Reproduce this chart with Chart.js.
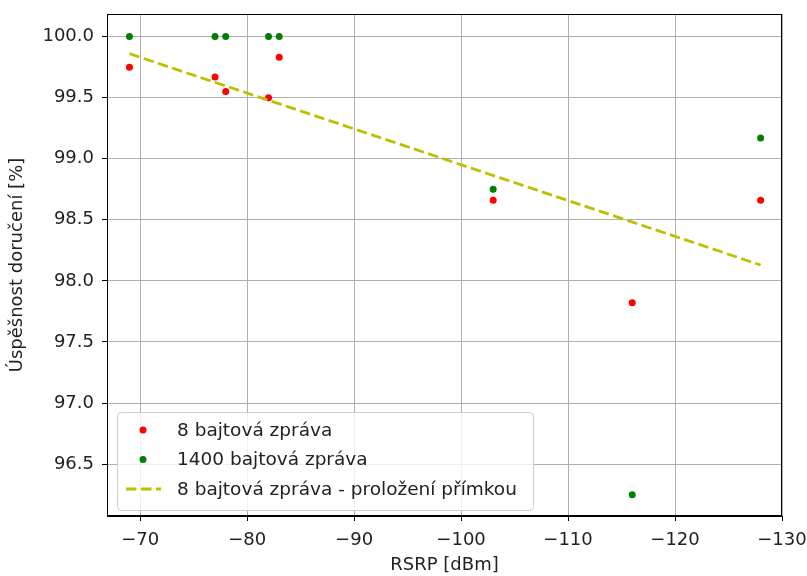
<!DOCTYPE html>
<html>
<head>
<meta charset="utf-8">
<script src="https://cdn.jsdelivr.net/npm/chart.js@4/dist/chart.umd.min.js"></script>
<style>
  html, body { margin: 0; padding: 0; background: #fff; }
  #wrap { width: 807px; height: 576px; }
</style>
</head>
<body>
<div id="wrap"><canvas id="chart" width="807" height="576"></canvas></div>
<script>
// RSRP values [dBm]
const rsrp = [-69, -77, -78, -82, -83, -103, -116, -128];
// delivery success [%]
const small = [99.75, 99.67, 99.55, 99.5, 99.83, 98.66, 97.82, 98.66];
const large = [100.0, 100.0, 100.0, 100.0, 100.0, 98.75, 96.25, 99.17];
// fitted line endpoints
const fitX = [-69, -128];
const fitY = [99.86, 98.13];

const xTicks = [-70, -80, -90, -100, -110, -120, -130];
const yTicks = [96.5, 97.0, 97.5, 98.0, 98.5, 99.0, 99.5, 100.0];

const labels = ["8 bajtová zpráva", "1400 bajtová zpráva", "8 bajtová zpráva - proložení přímkou"];

const FONT = "'DejaVu Sans', sans-serif";
const FS = 18;

const toPts = (xs, ys) => xs.map((x, i) => ({ x: x, y: ys[i] }));

// frame + legend inside the plot, lower left
const framePlugin = {
  id: "frame",
  afterDraw(chart) {
    const { ctx, chartArea: a } = chart;
    ctx.save();
    ctx.strokeStyle = "#000";
    ctx.lineWidth = 1;
    ctx.strokeRect(a.left + 0.5, a.top + 0.5, a.right - a.left - 1, a.bottom - a.top - 1);

    // legend
    const bx = a.left + 10, by = a.bottom - 104, bw = 416, bh = 98;
    ctx.fillStyle = "rgba(255,255,255,0.8)";
    ctx.strokeStyle = "#d0d0d0";
    ctx.beginPath();
    ctx.roundRect(bx + 0.5, by + 0.5, bw, bh, 4);
    ctx.fill();
    ctx.stroke();

    const ds = chart.data.datasets;
    ctx.font = "18.5px " + FONT;
    ctx.textBaseline = "middle";
    for (let i = 0; i < ds.length; i++) {
      const cy = by + 18 + i * 29.5;
      if (ds[i].showLine) {
        ctx.strokeStyle = ds[i].borderColor;
        ctx.lineWidth = ds[i].borderWidth;
        ctx.setLineDash(ds[i].borderDash);
        ctx.beginPath();
        ctx.moveTo(bx + 9, cy);
        ctx.lineTo(bx + 44, cy);
        ctx.stroke();
        ctx.setLineDash([]);
      } else {
        ctx.fillStyle = ds[i].backgroundColor;
        ctx.beginPath();
        ctx.arc(bx + 26, cy, 3.5, 0, Math.PI * 2);
        ctx.fill();
      }
      ctx.fillStyle = "#222";
      ctx.fillText(ds[i].label, bx + 60, cy + 1);
    }
    ctx.restore();
  }
};

new Chart(document.getElementById("chart"), {
  type: "scatter",
  data: {
    datasets: [
      {
        label: labels[0],
        data: toPts(rsrp, small),
        backgroundColor: "#ff0000",
        borderColor: "#ff0000",
        pointRadius: 3.5,
        pointBorderWidth: 0,
        showLine: false,
        order: 2
      },
      {
        label: labels[1],
        data: toPts(rsrp, large),
        backgroundColor: "#008000",
        borderColor: "#008000",
        pointRadius: 3.5,
        pointBorderWidth: 0,
        showLine: false,
        order: 1
      },
      {
        label: labels[2],
        data: toPts(fitX, fitY),
        borderColor: "#bfbf00",
        backgroundColor: "#bfbf00",
        borderWidth: 2.8,
        borderDash: [10.5, 4.5],
        pointRadius: 0,
        showLine: true,
        order: 0
      }
    ]
  },
  options: {
    responsive: false,
    animation: false,
    layout: { padding: { top: 14, right: 25, left: 0, bottom: 0 } },
    plugins: {
      legend: { display: false },
      tooltip: { enabled: false }
    },
    scales: {
      x: {
        type: "linear",
        reverse: true,
        min: -130,
        max: -66.9,
        afterBuildTicks: (s) => { s.ticks = xTicks.map(v => ({ value: v })); },
        afterFit: (s) => { s.height = 60; s.paddingLeft = 0; s.paddingRight = 0; },
        ticks: {
          font: { family: FONT, size: FS },
          color: "#222",
          padding: 9,
          maxRotation: 0,
          callback: (v) => String(v).replace("-", "\u2212")
        },
        grid: { color: "#b0b0b0", lineWidth: 1, tickColor: "#000", tickLength: 5 },
        border: { display: true, color: "#000" },
        title: {
          display: true,
          text: "RSRP [dBm]",
          font: { family: FONT, size: FS },
          color: "#222",
          padding: { top: 0, bottom: 0 }
        }
      },
      y: {
        type: "linear",
        min: 96.075,
        max: 100.185,
        afterBuildTicks: (s) => { s.ticks = yTicks.map(v => ({ value: v })); },
        afterFit: (s) => { s.width = 107; s.paddingTop = 0; s.paddingBottom = 0; },
        ticks: {
          font: { family: FONT, size: FS },
          color: "#222",
          padding: 8,
          callback: (v) => v.toFixed(1)
        },
        grid: { color: "#b0b0b0", lineWidth: 1, tickColor: "#000", tickLength: 5 },
        border: { display: true, color: "#000" },
        title: {
          display: true,
          text: "Úspěšnost doručení [%]",
          font: { family: FONT, size: FS },
          color: "#222",
          padding: { top: 7, bottom: 0 }
        }
      }
    }
  },
  plugins: [framePlugin]
});
</script>
</body>
</html>
